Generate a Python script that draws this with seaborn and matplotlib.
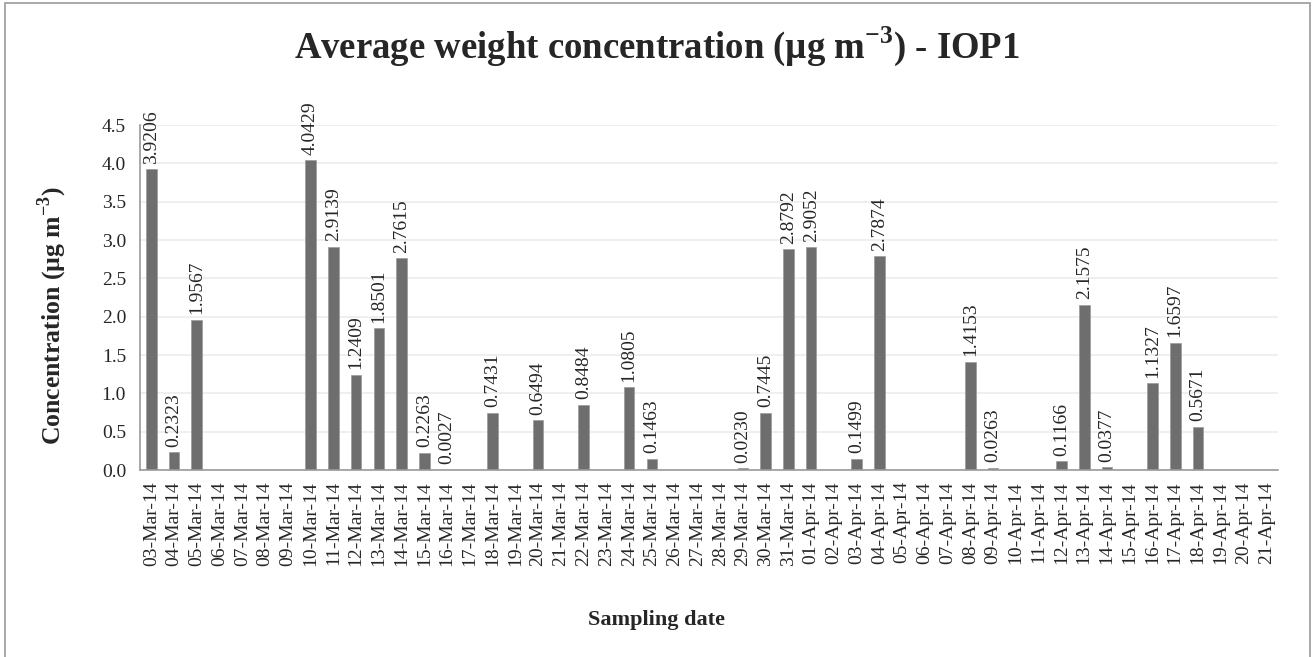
import numpy as np
import pandas as pd
import matplotlib
matplotlib.use('Agg')
import matplotlib.pyplot as plt
import seaborn as sns

# 샘플링 날짜 (03-Mar-14 ~ 21-Apr-14)
dates = ['03-Mar-14', '04-Mar-14', '05-Mar-14', '06-Mar-14', '07-Mar-14', '08-Mar-14', '09-Mar-14',
         '10-Mar-14', '11-Mar-14', '12-Mar-14', '13-Mar-14', '14-Mar-14', '15-Mar-14', '16-Mar-14',
         '17-Mar-14', '18-Mar-14', '19-Mar-14', '20-Mar-14', '21-Mar-14', '22-Mar-14', '23-Mar-14',
         '24-Mar-14', '25-Mar-14', '26-Mar-14', '27-Mar-14', '28-Mar-14', '29-Mar-14', '30-Mar-14',
         '31-Mar-14', '01-Apr-14', '02-Apr-14', '03-Apr-14', '04-Apr-14', '05-Apr-14', '06-Apr-14',
         '07-Apr-14', '08-Apr-14', '09-Apr-14', '10-Apr-14', '11-Apr-14', '12-Apr-14', '13-Apr-14',
         '14-Apr-14', '15-Apr-14', '16-Apr-14', '17-Apr-14', '18-Apr-14', '19-Apr-14', '20-Apr-14',
         '21-Apr-14']

nan = np.nan
# 평균 농도 (값이 없는 날은 nan)
conc = [3.9206, 0.2323, 1.9567, nan, nan, nan, nan,
        4.0429, 2.9139, 1.2409, 1.8501, 2.7615, 0.2263, 0.0027,
        nan, 0.7431, nan, 0.6494, nan, 0.8484, nan,
        1.0805, 0.1463, nan, nan, nan, 0.0230, 0.7445,
        2.8792, 2.9052, nan, 0.1499, 2.7874, nan, nan,
        nan, 1.4153, 0.0263, nan, nan, 0.1166, 2.1575,
        0.0377, nan, 1.1327, 1.6597, 0.5671, nan, nan,
        nan]

yticks = [0.0, 0.5, 1.0, 1.5, 2.0, 2.5, 3.0, 3.5, 4.0, 4.5]

df = pd.DataFrame({'date': dates, 'conc': conc})

sns.set_style('white')
plt.rcParams['font.family'] = ['Liberation Serif', 'DejaVu Serif']
plt.rcParams['mathtext.fontset'] = 'custom'
plt.rcParams['mathtext.rm'] = 'Liberation Serif'
plt.rcParams['mathtext.bf'] = 'Liberation Serif:bold'

fig = plt.figure(figsize=(13.13, 6.57), dpi=100)
ax = fig.add_axes([0.1066, 0.2846, 0.8664, 0.5251])

sns.barplot(data=df, x='date', y='conc', order=dates, color='#6e6e6e',
            saturation=1, width=0.47, ax=ax, edgecolor='#9a9a9a', linewidth=0.5)

# 막대 위 값 표시
for i, v in enumerate(conc):
    if not np.isnan(v):
        ax.annotate('%.4f' % v, (i, v), xytext=(0, 4), textcoords='offset points',
                    rotation=90, ha='center', va='bottom', fontsize=14)

ax.set_ylim(0, 4.5)
ax.set_xlim(-0.5, len(dates) - 0.5)
ax.set_yticks(yticks)
ax.set_yticklabels(['%.1f' % t for t in yticks], fontsize=14)
ax.set_xticks(range(len(dates)))
ax.set_xticklabels(dates, rotation=90, fontsize=14)
ax.set_xticks(np.arange(len(dates) + 1) - 0.5, minor=True)
ax.tick_params(axis='x', which='major', length=0, pad=8)
ax.tick_params(axis='x', which='minor', length=7, color='#9a9a9a', width=1.2, direction='out')
ax.tick_params(axis='y', length=6, color='#9a9a9a', width=1.2, direction='out', pad=4)
ax.yaxis.grid(True, color='#ececec', linewidth=1.2)
ax.set_axisbelow(True)

for s in ['top', 'right']:
    ax.spines[s].set_visible(False)
for s in ['left', 'bottom']:
    ax.spines[s].set_color('#9a9a9a')
    ax.spines[s].set_linewidth(1.2)

ax.set_xlabel('')
ax.set_ylabel('')
unit = r'(µg m$^{\mathbf{-3}}$)'
fig.text(0.5, 0.057, 'Sampling date', ha='center', va='center', fontsize=16, fontweight='bold')
fig.text(0.04, 0.52, 'Concentration ' + unit, ha='center', va='center', rotation=90,
         fontsize=18.5, fontweight='bold')
fig.text(0.5, 0.93, 'Average weight concentration ' + unit + ' - IOP1', ha='center', va='center',
         fontsize=26.5, fontweight='bold')

# 바깥 테두리
fig.patches.append(plt.Rectangle((0.004, -0.02), 0.994, 1.015, transform=fig.transFigure,
                                 fill=False, edgecolor='#9a9a9a', linewidth=1.2))

plt.savefig('out.png', dpi=100)
